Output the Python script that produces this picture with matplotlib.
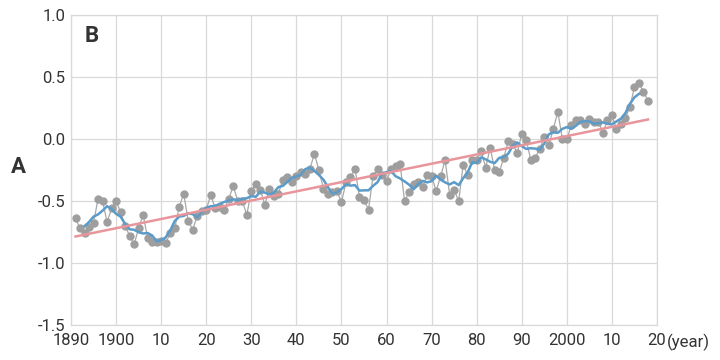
import numpy as np
import pandas as pd
import matplotlib
import matplotlib.pyplot as plt

matplotlib.use('Agg')

plt.rcParams['font.family'] = ['Roboto', 'DejaVu Sans']
plt.rcParams['axes.unicode_minus'] = False

# 年平均気温偏差 (1891-2018)
years = list(range(1891, 2019))
anomaly = [
    -0.64, -0.72, -0.76, -0.71, -0.68, -0.48, -0.50, -0.67, -0.56, -0.50,
    -0.59, -0.70, -0.78, -0.85, -0.72, -0.61, -0.80, -0.83, -0.83, -0.82,
    -0.84, -0.76, -0.72, -0.55, -0.44, -0.66, -0.73, -0.62, -0.58, -0.57,
    -0.45, -0.56, -0.55, -0.57, -0.48, -0.38, -0.50, -0.50, -0.61, -0.42,
    -0.36, -0.41, -0.53, -0.40, -0.46, -0.44, -0.33, -0.31, -0.35, -0.30,
    -0.27, -0.28, -0.24, -0.12, -0.25, -0.40, -0.44, -0.43, -0.42, -0.51,
    -0.35, -0.31, -0.24, -0.47, -0.49, -0.57, -0.30, -0.24, -0.29, -0.34,
    -0.24, -0.22, -0.20, -0.50, -0.43, -0.36, -0.35, -0.39, -0.29, -0.30,
    -0.42, -0.30, -0.17, -0.45, -0.41, -0.50, -0.21, -0.29, -0.17, -0.17,
    -0.10, -0.23, -0.07, -0.25, -0.27, -0.15, -0.02, -0.04, -0.11, 0.04,
    -0.01, -0.17, -0.15, -0.08, 0.02, -0.05, 0.08, 0.22, 0.00, 0.00,
    0.11, 0.15, 0.15, 0.12, 0.16, 0.14, 0.14, 0.05, 0.15, 0.19,
    0.08, 0.12, 0.17, 0.26, 0.42, 0.45, 0.38, 0.31,
]

xtick_pos = list(range(1890, 2021, 10))
xtick_labels = ['1890', '1900', '10', '20', '30', '40', '50', '60', '70',
                '80', '90', '2000', '10', '20']
ytick_pos = [1.0, 0.5, 0.0, -0.5, -1.0, -1.5]
ytick_labels = ['1.0', '0.5', '0.0', '-0.5', '-1.0', '-1.5']

df = pd.DataFrame({'year': years, 'anomaly': anomaly})
# 5年移動平均
df['ma5'] = df['anomaly'].rolling(5, center=True).mean()
# 長期変化傾向
coef = np.polyfit(df['year'], df['anomaly'], 1)
trend = np.polyval(coef, df['year'])

fig = plt.figure(figsize=(7.2, 3.6), dpi=100)
ax = fig.add_axes([71 / 720, 1 - 325 / 360, (657 - 71) / 720, (325 - 15) / 360])

ax.plot(df['year'], df['anomaly'], color='#a8a8a8', linewidth=0.9,
        marker='o', markersize=5, markerfacecolor='#9e9e9e',
        markeredgecolor='#9e9e9e', zorder=2)
ax.plot(df['year'], df['ma5'], color='#5b9bc9', linewidth=1.8, zorder=3)
ax.plot(df['year'], trend, color='#e8959b', linewidth=1.8, zorder=4)

ax.set_xlim(1890, 2020)
ax.set_ylim(-1.5, 1.0)
ax.set_xticks(xtick_pos)
ax.set_xticklabels(xtick_labels)
ax.set_yticks(ytick_pos)
ax.set_yticklabels(ytick_labels)
ax.tick_params(length=0, labelsize=12, labelcolor='#333333')
ax.tick_params(axis='x', pad=6)
ax.tick_params(axis='y', pad=4)

ax.grid(True, color='#d9d9d9', linewidth=0.9)
ax.set_axisbelow(True)
for side in ax.spines.values():
    side.set_color('#d9d9d9')
    side.set_linewidth(0.9)

# 単位
fig.text(667 / 720, 1 - 342 / 360, '(year)', ha='left', va='center',
         fontsize=12, color='#333333')

fig.text(18 / 720, 1 - 167 / 360, 'A', fontsize=16, fontweight='bold',
         color='#333333', ha='center', va='center')
ax.text(1894.5, 0.83, 'B', fontsize=16, fontweight='bold',
        color='#333333', ha='center', va='center')

fig.savefig('out.png', dpi=100)
